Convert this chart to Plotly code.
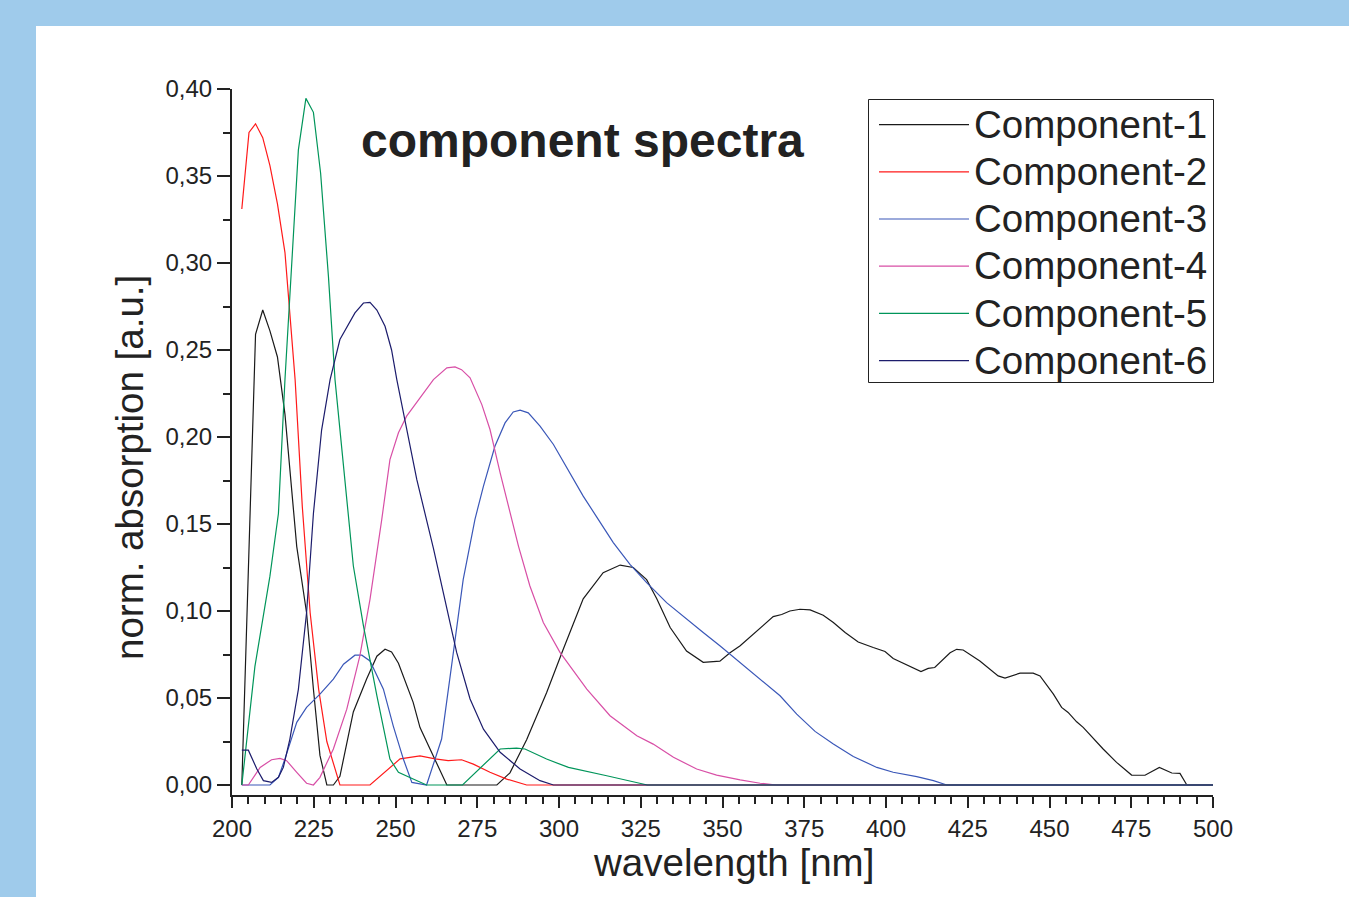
import plotly.graph_objects as go

# ---------------- data ----------------
c1_x = [203, 207.2, 209.4, 211.6, 213.9, 216.2, 219.8, 222.8, 224.9, 226.9, 229.0, 231.0, 233.0,
        237.1, 241.2, 244.3, 246.8, 248.8, 250.9, 255.4, 257.5, 261.6, 265.7, 281.0, 285.0,
        290.1, 296.2, 301.3, 307.4, 313.5, 318.7, 322.7, 326.8, 329.9, 334.0, 339.0, 344.1,
        349.2, 352.3, 355.4, 360.4, 365.5, 368.1, 370.6, 373.7, 376.8, 380.8, 383.9, 387.5,
        391.5, 396.1, 399.7, 402.2, 406.3, 410.7, 412.9, 414.9, 419.6, 421.6, 423.6, 428.7,
        434.3, 436.4, 441.0, 445.0, 447.1, 451.2, 453.7, 455.7, 458.3, 460.3, 466.4, 470.5,
        475.1, 479.2, 483.6, 487.4, 489.9, 492.0, 500.0]
c1_y = [0.0, 0.259, 0.273, 0.261, 0.246, 0.213, 0.137, 0.099, 0.055, 0.017, 0.0, 0.0, 0.005,
        0.042, 0.061, 0.074, 0.078, 0.0765, 0.070, 0.0475, 0.033, 0.016, 0.0, 0.0, 0.007,
        0.026, 0.053, 0.078, 0.107, 0.122, 0.1264, 0.125, 0.118, 0.107, 0.0905, 0.077, 0.0705,
        0.0712, 0.076, 0.080, 0.0886, 0.0968, 0.098, 0.100, 0.101, 0.1006, 0.0976, 0.0934, 0.0876,
        0.0822, 0.079, 0.0767, 0.0727, 0.069, 0.0652, 0.067, 0.0675, 0.076, 0.078, 0.0776, 0.0713,
        0.0627, 0.0614, 0.0643, 0.0643, 0.0627, 0.0522, 0.0446, 0.0417, 0.0363, 0.0331, 0.0207, 0.013,
        0.0057, 0.0056, 0.0101, 0.0069, 0.0067, 0.0, 0.0]

c2_x = [203, 205.2, 207.2, 209.4, 211.6, 213.9, 216.2, 217.7, 219.3, 221.5, 223.9, 226.5, 229.0,
        233.0, 242.2, 251.4, 257.5, 262.1, 266.1, 270.2, 273.8, 278.9, 284.0, 290.1, 500.0]
c2_y = [0.331, 0.375, 0.380, 0.372, 0.356, 0.334, 0.306, 0.271, 0.233, 0.160, 0.099, 0.055, 0.025,
        0.0, 0.0, 0.015, 0.0167, 0.015, 0.014, 0.0145, 0.012, 0.0073, 0.0034, 0.0, 0.0]

c3_x = [203, 211.6, 214.2, 216.2, 219.8, 222.8, 226.9, 231.0, 234.1, 237.6, 239.7, 242.2, 246.3,
        249.3, 252.4, 255.0, 259.5, 264.1, 267.7, 270.7, 274.3, 276.9, 280.4, 283.5, 286.0,
        288.1, 290.6, 294.2, 298.3, 302.4, 307.4, 312.0, 316.6, 321.7, 326.8, 332.9, 339.0,
        344.1, 349.2, 352.3, 361.5, 367.6, 372.7, 378.3, 383.9, 390.0, 397.2, 402.2, 409.4,
        414.5, 418.6, 500.0]
c3_y = [0.0, 0.0, 0.0044, 0.015, 0.036, 0.0446, 0.0522, 0.0608, 0.0694, 0.0746, 0.0746, 0.0713, 0.0551,
        0.034, 0.0149, 0.0015, 0.0, 0.0264, 0.0762, 0.118, 0.1527, 0.1718, 0.1947, 0.2081, 0.2144,
        0.2154, 0.2139, 0.2062, 0.1957, 0.1823, 0.166, 0.1527, 0.1393, 0.1268, 0.1163, 0.1048, 0.0953,
        0.0876, 0.080, 0.0752, 0.0608, 0.0513, 0.0407, 0.0308, 0.0235, 0.0164, 0.0101, 0.0073, 0.0048,
        0.0025, 0.0, 0.0]

c4_x = [203, 205.0, 208.6, 212.1, 214.7, 216.7, 219.8, 222.8, 224.9, 226.9, 231.0, 235.1, 239.1,
        242.2, 245.8, 248.3, 250.9, 253.4, 257.5, 261.6, 265.7, 268.2, 270.2, 272.8, 276.4,
        278.9, 282.0, 284.5, 287.6, 291.1, 295.2, 300.3, 308.5, 315.6, 323.8, 328.8, 335.0,
        342.1, 348.2, 355.4, 361.5, 366.5, 500.0]
c4_y = [0.0, 0.0, 0.0101, 0.0145, 0.0153, 0.014, 0.0073, 0.001, 0.0, 0.0044, 0.0207, 0.0436, 0.0742,
        0.1067, 0.1527, 0.187, 0.2024, 0.212, 0.2225, 0.233, 0.2397, 0.2403, 0.2387, 0.234, 0.2186,
        0.2043, 0.1794, 0.1603, 0.1373, 0.1144, 0.0934, 0.0762, 0.0551, 0.0398, 0.0283, 0.0235, 0.0159,
        0.0092, 0.0057, 0.0029, 0.001, 0.0, 0.0]

c5_x = [203, 207.0, 211.6, 214.2, 216.2, 220.3, 222.6, 224.9, 227.1, 229.5, 231.5, 237.1, 240.2,
        244.3, 248.3, 250.9, 255.4, 259.5, 270.5, 282.0, 287.0, 289.6, 296.2, 302.9, 314.6,
        324.8, 327.0, 500.0]
c5_y = [0.0, 0.068, 0.120, 0.156, 0.233, 0.365, 0.3946, 0.3866, 0.3516, 0.292, 0.233, 0.126, 0.0914,
        0.0513, 0.0149, 0.0073, 0.0034, 0.0, 0.0, 0.0207, 0.0212, 0.0207, 0.0149, 0.0101, 0.0053,
        0.001, 0.0, 0.0]

c6_x = [203, 205.0, 207.6, 209.6, 212.1, 214.2, 215.7, 217.7, 220.3, 222.8, 224.9, 227.4, 230.0,
        233.0, 237.6, 240.2, 242.2, 244.3, 246.8, 248.8, 250.4, 256.5, 261.6, 265.7, 268.7,
        272.8, 276.9, 282.0, 288.1, 294.2, 298.3, 500.0]
c6_y = [0.02, 0.02, 0.0092, 0.0025, 0.0015, 0.0044, 0.0101, 0.0264, 0.055, 0.099, 0.156, 0.204, 0.233,
        0.256, 0.2713, 0.277, 0.2774, 0.273, 0.2636, 0.250, 0.233, 0.1756, 0.136, 0.101, 0.0762,
        0.0494, 0.0321, 0.0188, 0.0092, 0.0025, 0.0, 0.0]

names = ["Component-1", "Component-2", "Component-3", "Component-4", "Component-5", "Component-6"]
colors = ["#1a1a1a", "#ff1a1a", "#3a57b8", "#d84fa6", "#00955a", "#1c1c6c"]
xs = [c1_x, c2_x, c3_x, c4_x, c5_x, c6_x]
ys = [c1_y, c2_y, c3_y, c4_y, c5_y, c6_y]

FONT = "Liberation Sans, Arial, sans-serif"
INK = "#222222"

fig = go.Figure()
for n, c, x, y in zip(names, colors, xs, ys):
    fig.add_trace(go.Scatter(x=x, y=y, name="<span style='font-size:38.5px'>" + n + "</span>",
                             mode="lines", line=dict(color=c, width=1.2)))

# plot-area geometry in px: x 232..1213, y 89..795
PL, PR, PT, PB = 232, 1213, 89, 795
W, H = 1349, 897
pw, ph = PR - PL, PB - PT


def px(xp):
    return (xp - PL) / pw


def py(yp):
    return (PB - yp) / ph


fig.update_layout(
    width=W, height=H,
    margin=dict(l=PL, r=W - PR, t=PT, b=H - PB, pad=0),
    paper_bgcolor="#9fcbeb",
    plot_bgcolor="rgba(0,0,0,0)",
    separators=", ",
    font=dict(family=FONT, color=INK, size=24),
    showlegend=True,
    legend=dict(
        x=1.0, xanchor="right", y=py(96), yanchor="top",
        bgcolor="rgba(0,0,0,0)", borderwidth=0,
        font=dict(family=FONT, size=34, color=INK),
        itemwidth=90, tracegroupgap=0,
    ),
    shapes=[
        dict(type="rect", xref="paper", yref="paper",
             x0=px(36), x1=px(W + 5), y0=py(H + 5), y1=py(26),
             fillcolor="white", line=dict(width=0), layer="below"),
        # legend frame
        dict(type="rect", xref="paper", yref="paper",
             x0=px(868.5), x1=px(1213.5), y0=py(382.5), y1=py(99.5),
             fillcolor="white", line=dict(width=1, color=INK), layer="below"),
    ],
    annotations=[
        dict(text="<b>component spectra</b>", xref="paper", yref="paper",
             x=px(582), y=py(141), xanchor="center", yanchor="middle",
             showarrow=False, font=dict(family=FONT, size=48, color=INK)),
        dict(text="wavelength [nm]", xref="paper", yref="paper",
             x=px(733), y=py(862), xanchor="center", yanchor="middle",
             showarrow=False, font=dict(family=FONT, size=38.5, color=INK)),
        dict(text="norm. absorption [a.u.]", xref="paper", yref="paper",
             x=px(129.5), y=py(467.5), xanchor="center", yanchor="middle",
             textangle=-90, showarrow=False,
             font=dict(family=FONT, size=38.5, color=INK)),
    ],
)

fig.update_xaxes(
    range=[200, 500], tick0=200, dtick=25, showgrid=False, zeroline=False,
    showline=True, linewidth=2, linecolor=INK,
    ticks="outside", ticklen=11, tickwidth=2, tickcolor=INK,
    tickfont=dict(family=FONT, size=24, color=INK),
    minor=dict(dtick=5, tick0=200, ticks="outside", ticklen=7, tickwidth=2, tickcolor=INK, showgrid=False),
)
fig.update_yaxes(
    range=[-0.00575, 0.40], tick0=0, dtick=0.05, tickformat=".2f",
    showgrid=False, zeroline=False,
    showline=True, linewidth=2, linecolor=INK,
    ticks="outside", ticklen=13, tickwidth=2, tickcolor=INK,
    tickfont=dict(family=FONT, size=24, color=INK),
    minor=dict(dtick=0.025, tick0=0, ticks="outside", ticklen=7, tickwidth=2, tickcolor=INK, showgrid=False),
)

fig.write_html("out.html")
